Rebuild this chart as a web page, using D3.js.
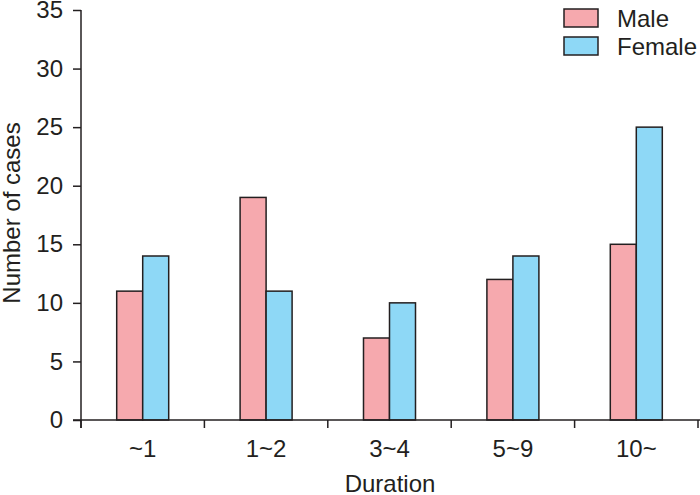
<!DOCTYPE html>
<html>
<head>
<meta charset="utf-8">
<script src="https://cdn.jsdelivr.net/npm/d3@7"></script>
<style>
  body { margin: 0; background: #fff; }
  svg text { font-family: "Liberation Sans", Arial, sans-serif; fill: #231f20; }
</style>
</head>
<body>
<div id="chart"></div>
<script>
// data
var categories = ["~1", "1~2", "3~4", "5~9", "10~"];
var seriesNames = ["Male", "Female"];
var maleValues = [11, 19, 7, 12, 15];
var femaleValues = [14, 11, 10, 14, 25];
var yTicks = [0, 5, 10, 15, 20, 25, 30, 35];

var colors = {Male: "#f6a9ae", Female: "#8ed8f6"};
var ink = "#231f20";

// set the dimensions and margins of the graph
var margin = {top: 10, right: 2, bottom: 75, left: 81},
    width = 700 - margin.left - margin.right,
    height = 495 - margin.top - margin.bottom;

var svg = d3.select("#chart")
  .append("svg")
  .attr("width", 700)
  .attr("height", 495)
  .append("g")
  .attr("transform", "translate(" + margin.left + "," + margin.top + ")");

var rows = categories.map(function(c, i) {
  return {cat: c, Male: maleValues[i], Female: femaleValues[i]};
});

var x = d3.scaleBand()
  .domain(categories)
  .range([0, 617]);

var xSub = d3.scaleBand()
  .domain(seriesNames)
  .range([0, 52]);

var y = d3.scaleLinear()
  .domain([0, 35])
  .range([height, 0]);

// bars
var groups = svg.selectAll(".grp")
  .data(rows)
  .enter().append("g")
  .attr("class", "grp")
  .attr("transform", function(d) {
    return "translate(" + (x(d.cat) + x.bandwidth() / 2 - 26) + ",0)";
  });

groups.selectAll("rect")
  .data(function(d) { return seriesNames.map(function(s) { return {key: s, value: d[s]}; }); })
  .enter().append("rect")
  .attr("x", function(d) { return xSub(d.key); })
  .attr("width", xSub.bandwidth())
  .attr("y", function(d) { return y(d.value); })
  .attr("height", function(d) { return height - y(d.value); })
  .attr("fill", function(d) { return colors[d.key]; })
  .attr("stroke", ink)
  .attr("stroke-width", 1.5);

// y axis
var yAxis = svg.append("g")
  .call(d3.axisLeft(y).tickValues(yTicks).tickSize(8).tickPadding(10));
yAxis.select(".domain").attr("stroke", ink).attr("stroke-width", 1.5)
  .attr("d", "M0," + (height + 8) + "V0");
yAxis.selectAll(".tick line").attr("stroke", ink).attr("stroke-width", 1.5);
yAxis.selectAll(".tick text").style("font-size", "24px").attr("fill", ink);

// x axis
var xAxis = svg.append("g")
  .attr("transform", "translate(0," + height + ")")
  .call(d3.axisBottom(x).tickSize(0).tickPadding(20));
xAxis.select(".domain").attr("stroke", ink).attr("stroke-width", 1.5)
  .attr("d", "M-8,0H619");
xAxis.selectAll(".tick text").style("font-size", "24px").attr("fill", ink)
  .attr("y", 20).attr("dy", "0.71em");

// tick marks between categories
svg.append("g")
  .selectAll("line")
  .data(categories.concat(["end"]))
  .enter().append("line")
  .attr("x1", function(d, i) { return i * x.step(); })
  .attr("x2", function(d, i) { return i * x.step(); })
  .attr("y1", height)
  .attr("y2", height + 8)
  .attr("stroke", ink)
  .attr("stroke-width", 1.5);

// axis titles
svg.append("text")
  .attr("x", 309)
  .attr("y", height + 72)
  .attr("text-anchor", "middle")
  .style("font-size", "24px")
  .text("Duration");

svg.append("text")
  .attr("transform", "rotate(-90)")
  .attr("x", -203)
  .attr("y", -61)
  .attr("text-anchor", "middle")
  .style("font-size", "24px")
  .text("Number of cases");

// legend
var legend = svg.selectAll(".legend")
  .data(seriesNames)
  .enter().append("g")
  .attr("class", "legend")
  .attr("transform", function(d, i) { return "translate(483," + (-1 + i * 28) + ")"; });

legend.append("rect")
  .attr("width", 34)
  .attr("height", 18)
  .attr("fill", function(d) { return colors[d]; })
  .attr("stroke", ink)
  .attr("stroke-width", 1.5);

legend.append("text")
  .attr("x", 53)
  .attr("y", 18)
  .style("font-size", "24px")
  .text(function(d) { return d; });
</script>
</body>
</html>
